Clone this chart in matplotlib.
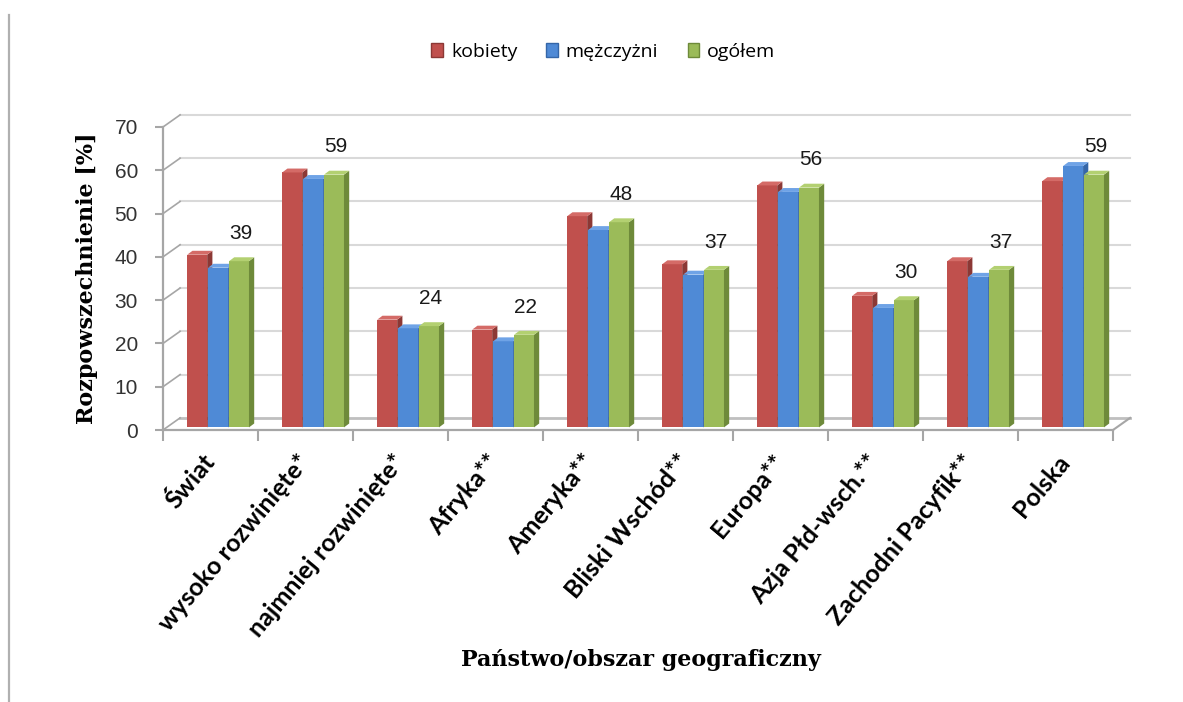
import matplotlib

matplotlib.use("Agg")
import matplotlib.pyplot as plt
from matplotlib.lines import Line2D
from matplotlib.patches import Patch, Polygon

# Data
categories = [
    "Świat",
    "wysoko rozwinięte*",
    "najmniej rozwinięte*",
    "Afryka**",
    "Ameryka**",
    "Bliski Wschód**",
    "Europa**",
    "Azja Płd-wsch.**",
    "Zachodni Pacyfik**",
    "Polska",
]
kobiety = [40.5, 59.5, 25.5, 23.2, 49.4, 38.3, 56.5, 31.0, 39.0, 57.5]
mezczyzni = [37.5, 58.0, 23.5, 20.5, 46.2, 35.9, 55.0, 28.2, 35.4, 61.0]
ogolem = [39, 59, 24, 22, 48, 37, 56, 30, 37, 59]
series_names = ["kobiety", "mężczyżni", "ogółem"]
y_ticks = [0, 10, 20, 30, 40, 50, 60, 70]

# front / side / top colours for the pseudo-3D columns
COLORS = {
    "kobiety": ("#C0504D", "#8C3835", "#D46B67"),
    "mężczyżni": ("#4F8AD6", "#3566A8", "#6FA3E6"),
    "ogółem": ("#9BBB59", "#6E8A3A", "#B3D071"),
}
GRID = "#D9D9D9"
AXIS = "#A6A6A6"

fig = plt.figure(figsize=(11.83, 7.02), dpi=100)
ax = fig.add_axes([163 / 1183, 1 - 430 / 702, 950 / 1183, 303 / 702])
ax.set_xlim(0, len(categories))
ax.set_ylim(0, 70)

# depth of the back wall (data units)
dx, dy = 0.18, 2.8

# back-wall gridlines and the little diagonals to the front axis
for v in y_ticks:
    c = "#BFBFBF" if v == 0 else GRID
    lw = 2.0 if v == 0 else 1.5
    ax.plot([dx, len(categories) + dx], [v + dy, v + dy], color=c, lw=lw,
            clip_on=False, zorder=1)
    ax.plot([0, dx], [v, v + dy], color=AXIS, lw=1.2, clip_on=False, zorder=1)
ax.plot([len(categories), len(categories) + dx], [0, dy], color=AXIS, lw=1.5,
        clip_on=False, zorder=1)

# columns
width = 0.21
side_w, cap_h = 0.055, 0.9
base = 0.6
offsets = [-0.22, 0.0, 0.22]
for name, vals, off in zip(series_names, [kobiety, mezczyzni, ogolem], offsets):
    front, side, top = COLORS[name]
    for i, v in enumerate(vals):
        x0 = i + 0.58 + off - width / 2
        ax.bar(x0, v - base, width=width, bottom=base, align="edge",
               color=front, edgecolor="none", zorder=3)
        ax.add_patch(Polygon(
            [(x0 + width, base), (x0 + width + side_w, base + cap_h),
             (x0 + width + side_w, v + cap_h), (x0 + width, v)],
            closed=True, facecolor=side, edgecolor="none", zorder=3, clip_on=False))
        ax.add_patch(Polygon(
            [(x0, v), (x0 + width, v), (x0 + width + side_w, v + cap_h),
             (x0 + side_w, v + cap_h)],
            closed=True, facecolor=top, edgecolor="none", zorder=3, clip_on=False))

# value labels above the "ogółem" column
for i, v in enumerate(ogolem):
    ax.text(i + 0.58 + offsets[2] + 0.02, v + 6.4, f"{v}", ha="center",
            va="center", fontsize=15, family="Liberation Sans", color="#1A1A1A")

# axes styling
for s in ["top", "right"]:
    ax.spines[s].set_visible(False)
for s in ["left", "bottom"]:
    ax.spines[s].set_color(AXIS)
    ax.spines[s].set_linewidth(1.6)

ax.set_yticks(y_ticks)
ax.set_yticklabels([str(t) for t in y_ticks], fontsize=15,
                   family="Liberation Sans", color="#333333")
ax.tick_params(axis="y", length=6, width=1.5, color=AXIS, pad=12)

ax.set_xticks([i for i in range(len(categories) + 1)], minor=True)
ax.set_xticks([i + 0.5 for i in range(len(categories))])
ax.set_xticklabels(categories, rotation=50, ha="right", va="center",
                   rotation_mode="anchor", fontsize=18, fontweight="bold",
                   family="Lato", color="black")
ax.tick_params(axis="x", which="major", length=0, pad=20)
ax.tick_params(axis="x", which="minor", length=8, width=1.5, color=AXIS)

ax.set_ylabel("Rozpowszechnienie [%]", fontsize=16, fontweight="bold",
              family="DejaVu Serif", labelpad=12)
fig.text(641 / 1183, 1 - 660 / 702, "Państwo/obszar geograficzny",
         ha="center", va="center", fontsize=16, fontweight="bold",
         family="DejaVu Serif")

# legend
handles = [Patch(facecolor=COLORS[n][0], edgecolor=COLORS[n][1], label=n)
           for n in series_names]
fig.legend(handles=handles, loc="center", bbox_to_anchor=(0.51, 1 - 52 / 702),
           ncol=3, frameon=False, handlelength=0.6, handleheight=0.75,
           handletextpad=0.4, columnspacing=1.5,
           prop={"family": "Open Sans", "size": 14})

# grey frame line on the left edge of the picture
fig.add_artist(Line2D([8.5 / 1183, 8.5 / 1183], [0, 1 - 15 / 702],
                      transform=fig.transFigure, color="#B0B0B0", lw=1.6))

fig.savefig("out.png", dpi=100)
